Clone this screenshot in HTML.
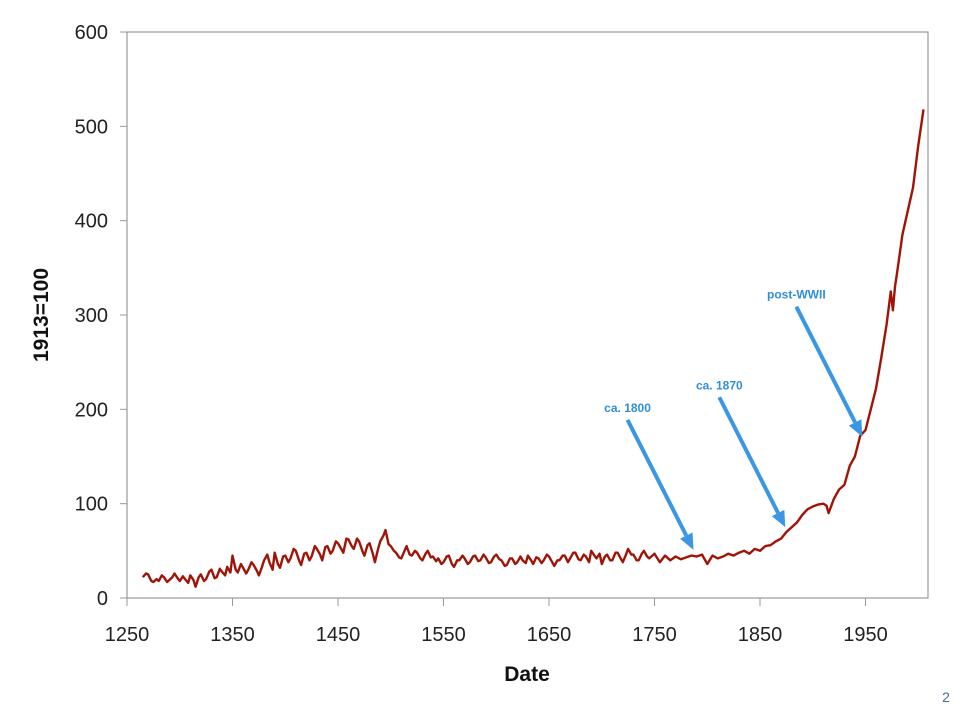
<!DOCTYPE html>
<html><head><meta charset="utf-8"><style>
body{margin:0;background:#fff;width:960px;height:720px;overflow:hidden;font-family:"Liberation Sans",sans-serif}
</style></head><body>
<svg id="chart" width="960" height="720" xmlns="http://www.w3.org/2000/svg" font-family="Liberation Sans, sans-serif">
<rect x="127" y="32" width="801" height="566" fill="none" stroke="#999" stroke-width="1.2"/>
<g id="yticks"></g><g id="xticks"></g>
<text transform="translate(48,315) rotate(-90)" text-anchor="middle" font-size="21" font-weight="bold" fill="#111">1913=100</text>
<text x="527" y="681" text-anchor="middle" font-size="21" font-weight="bold" fill="#111">Date</text>
<path id="series" fill="none" stroke="#a01408" stroke-width="2.4" stroke-linejoin="round"/>
<g id="notes"></g>
<text x="946" y="702" text-anchor="middle" font-size="14" fill="#4a6a9a">2</text>
</svg>
<script>
const years=[1265,1268,1270,1273,1275,1278,1280,1283,1285,1288,1290,1293,1295,1298,1300,1303,1305,1308,1310,1313,1315,1318,1320,1323,1325,1328,1330,1333,1335,1338,1340,1343,1345,1348,1350,1353,1355,1358,1360,1363,1365,1368,1370,1373,1375,1378,1380,1383,1385,1388,1390,1393,1395,1398,1400,1403,1405,1408,1410,1413,1415,1418,1420,1423,1425,1428,1430,1433,1435,1438,1440,1443,1445,1448,1450,1453,1455,1458,1460,1463,1465,1468,1470,1473,1475,1478,1480,1483,1485,1488,1490,1493,1495,1498,1500,1503,1505,1508,1510,1513,1515,1518,1520,1523,1525,1528,1530,1533,1535,1538,1540,1543,1545,1548,1550,1553,1555,1558,1560,1563,1565,1568,1570,1573,1575,1578,1580,1583,1585,1588,1590,1593,1595,1598,1600,1603,1605,1608,1610,1613,1615,1618,1620,1623,1625,1628,1630,1633,1635,1638,1640,1643,1645,1648,1650,1653,1655,1658,1660,1663,1665,1668,1670,1673,1675,1678,1680,1683,1685,1688,1690,1693,1695,1698,1700,1703,1705,1708,1710,1713,1715,1718,1720,1723,1725,1728,1730,1733,1735,1738,1740,1743,1745,1748,1750,1755,1760,1765,1770,1775,1780,1785,1790,1795,1800,1805,1810,1815,1820,1825,1830,1835,1840,1845,1850,1855,1860,1865,1870,1875,1880,1885,1890,1895,1900,1905,1910,1913,1915,1920,1925,1930,1935,1940,1945,1950,1955,1960,1965,1970,1974,1976,1978,1980,1985,1990,1995,2000,2005];
const values=[22,26,25,18,17,20,18,24,22,17,19,22,26,21,18,23,20,16,24,19,12,22,25,18,20,28,30,21,22,31,28,24,33,27,45,30,27,36,32,26,30,38,35,29,24,33,40,46,38,30,48,36,32,44,45,38,42,52,50,40,35,47,48,40,44,55,52,46,40,54,55,47,50,60,58,52,48,63,62,55,52,63,60,50,45,56,58,47,38,52,60,66,72,57,55,50,48,43,42,50,55,46,45,50,48,42,40,47,50,43,44,39,42,36,38,44,45,36,33,40,40,45,42,36,38,44,45,39,40,46,43,37,38,44,46,41,40,34,35,42,42,36,38,44,40,37,45,40,36,43,42,37,40,46,44,38,34,40,40,45,45,38,42,48,48,41,40,46,44,38,50,45,42,47,36,44,46,40,40,48,48,42,38,46,52,46,46,40,40,47,50,44,42,45,47,38,45,40,44,41,43,45,44,46,36,45,42,44,47,45,48,50,47,52,50,55,56,60,63,70,75,80,88,94,97,99,100,98,90,105,115,120,140,150,172,178,200,222,255,290,325,305,330,345,385,410,435,480,518];
const yTicks=[0,100,200,300,400,500,600];
const xTicks=[1250,1350,1450,1550,1650,1750,1850,1950];
const notes=[{label:"ca. 1800",year:1787,val:51},{label:"ca. 1870",year:1874,val:75},{label:"post-WWII",year:1947,val:171}];
const X=y=>127+(y-1250)*1.055, Y=v=>598-v*0.9433;
const ns="http://www.w3.org/2000/svg";
function mk(t,a,p){const e=document.createElementNS(ns,t);for(const k in a)e.setAttribute(k,a[k]);p.appendChild(e);return e;}
const yt=document.getElementById('yticks');
yTicks.forEach(v=>{
 const l=mk('line',{x1:120,x2:127,y1:Y(v),y2:Y(v),stroke:'#999'},yt);
 
 
 const t=mk('text',{x:108,y:Y(v)+7,'text-anchor':'end','font-size':20,fill:'#222'},yt);
 
 
 t.textContent=v;
});
const xt=document.getElementById('xticks');
xTicks.forEach(v=>{
 const l=mk('line',{x1:X(v),x2:X(v),y1:598,y2:606,stroke:'#999'},xt);
 
 
 const t=mk('text',{x:X(v),y:641,'text-anchor':'middle','font-size':20,fill:'#222'},xt);
 
 
 t.textContent=v;
});
document.getElementById('series').setAttribute('d',years.map((y,i)=>(i?'L':'M')+X(y).toFixed(1)+','+Y(values[i]).toFixed(1)).join(''));
const ng=document.getElementById('notes');
notes.forEach(n=>{
 const tx=X(n.year),ty=Y(n.val),sx=tx-66,sy=ty-130;
 const g=mk('g',{},ng);
 
 
 const dx=tx-sx,dy=ty-sy,L=Math.hypot(dx,dy),ux=dx/L,uy=dy/L,px=-uy,py=ux;
 const bx=tx-ux*16,by=ty-uy*16;
 mk('line',{x1:sx,y1:sy,x2:bx,y2:by,stroke:'#3b97e3','stroke-width':4},g);
 mk('polygon',{points:`${tx},${ty} ${bx+px*7},${by+py*7} ${bx-px*7},${by-py*7}`,fill:'#3b97e3'},g);
 const t=mk('text',{x:sx,y:sy-8,'text-anchor':'middle','font-size':12,'font-weight':'bold',fill:'#2f8fd8'},g);
 
 
 t.textContent=n.label;
});
</script>
</body></html>
